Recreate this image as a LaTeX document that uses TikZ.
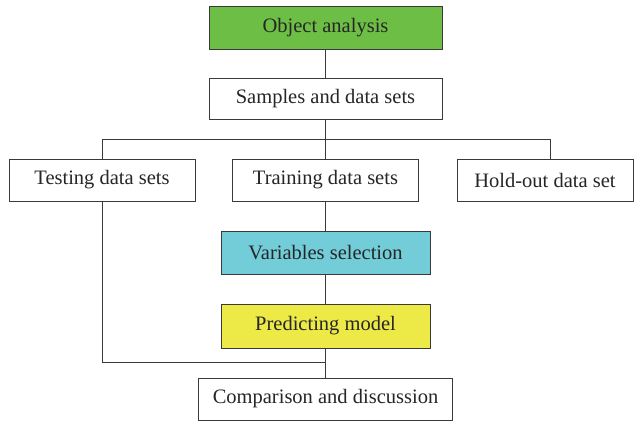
\documentclass[tikz,border=0pt]{standalone}
\usepackage{fontspec}
\setmainfont{Liberation Serif}
\definecolor{boxgreen}{HTML}{6DBE45}
\definecolor{boxcyan}{HTML}{72CDD8}
\definecolor{boxyellow}{HTML}{EDEA48}
\definecolor{linegray}{HTML}{3A3A3A}
\begin{document}
\begin{tikzpicture}[x=1pt,y=-1pt,
  box/.style={draw=linegray,line width=1pt,fill=white,inner sep=0pt,
    font=\fontsize{20.5}{24}\selectfont,text=black!85},
  conn/.style={draw=linegray,line width=1pt}]
\useasboundingbox (0,0) rectangle (638,421);
\node[box,fill=boxgreen,minimum width=233,minimum height=43] (obj) at (325.5,27.5) {Object analysis};
\node[box,minimum width=233,minimum height=41] (samp) at (325.5,98.5) {Samples and data sets};
\node[box,minimum width=186,minimum height=42] (test) at (102,180) {Testing data sets};
\node[box,minimum width=186,minimum height=42] (train) at (325.5,180) {Training data sets};
\node[box,minimum width=176,minimum height=42] (hold) at (545,180) {Hold-out data set};
\node[box,fill=boxcyan,minimum width=209,minimum height=43] (var) at (325.5,252.5) {Variables selection};
\node[box,fill=boxyellow,minimum width=209,minimum height=44] (pred) at (325.5,326) {Predicting model};
\node[box,minimum width=254,minimum height=42] (comp) at (325.5,399) {Comparison and discussion};
\coordinate (split) at (325.5,139);
\coordinate (tl) at (102,139);
\coordinate (hl) at (550,139);
\coordinate (hb) at (550,159);
\coordinate (jl) at (102,362);
\coordinate (jc) at (325.5,362);
\draw[conn] (obj.south) -- (samp.north);
\draw[conn] (samp.south) -- (split);
\draw[conn] (test.north) -- (tl) -- (hl) -- (hb);
\draw[conn] (split) -- (train.north);
\draw[conn] (train.south) -- (var.north);
\draw[conn] (var.south) -- (pred.north);
\draw[conn] (pred.south) -- (comp.north);
\draw[conn] (test.south) -- (jl) -- (jc);
\end{tikzpicture}
\end{document}
